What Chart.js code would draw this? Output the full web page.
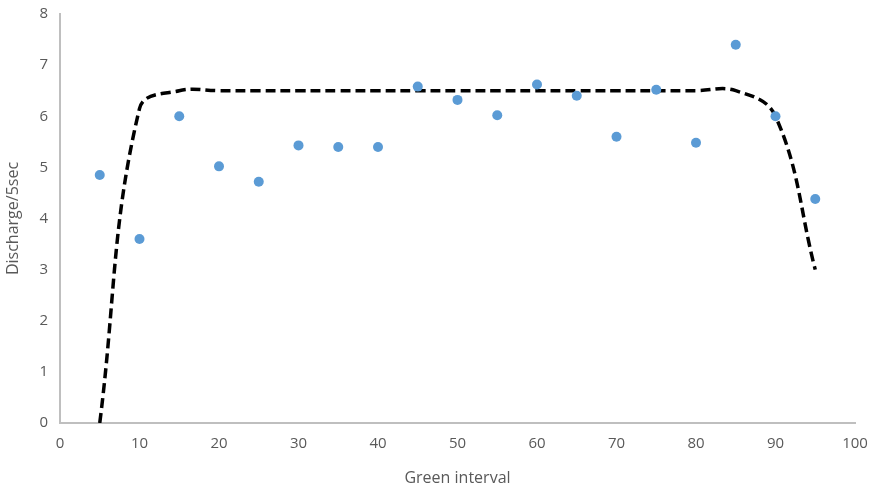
<!DOCTYPE html>
<html>
<head>
<meta charset="utf-8">
<script src="https://cdn.jsdelivr.net/npm/chart.js@4"></script>
<style>
html,body{margin:0;padding:0;background:#fff;}
#wrap{width:878px;height:492px;position:relative;}
</style>
</head>
<body>
<div id="wrap"><canvas id="c" width="878" height="492"></canvas></div>
<script>
const greenX = [5,10,15,20,25,30,35,40,45,50,55,60,65,70,75,80,85,90,95];
const discharge = [4.85,3.6,6.0,5.02,4.72,5.43,5.4,5.4,6.58,6.32,6.02,6.62,6.4,5.6,6.52,5.48,7.4,6.0,4.38];
const curveX = [5,10,15,20,25,30,35,40,45,50,55,60,65,70,75,80,85,90,95];
const curveY = [0,6.15,6.5,6.5,6.5,6.5,6.5,6.5,6.5,6.5,6.5,6.5,6.5,6.5,6.5,6.5,6.5,6.0,3.0];
const xTicks = [0,10,20,30,40,50,60,70,80,90,100];
const yTicks = [0,1,2,3,4,5,6,7,8];

const pts = greenX.map((x,i)=>({x:x,y:discharge[i]}));
const curve = curveX.map((x,i)=>({x:x,y:curveY[i]}));
const FONT = "'Open Sans', sans-serif";
const GRAY = '#595959';

new Chart(document.getElementById('c'), {
  type: 'scatter',
  data: {
    datasets: [
      {label:'Discharge', data: pts, backgroundColor:'#5b9bd5', borderColor:'#5b9bd5', pointRadius:5, pointBorderWidth:0, showLine:false},
      {label:'Fit', data: curve, showLine:true, borderColor:'#000', borderWidth:3.5, borderDash:[10,5], pointRadius:0, tension:0.4, fill:false}
    ]
  },
  options: {
    responsive:false, animation:false,
    layout:{padding:{top:14,right:23,left:0,bottom:0}},
    plugins:{legend:{display:false}, tooltip:{enabled:false}},
    scales:{
      x:{
        type:'linear', min:0, max:100,
        afterBuildTicks: s => { s.ticks = xTicks.map(v=>({value:v})); },
        afterFit: s => { s.height = 69; s.paddingLeft = 0; s.paddingRight = 0; },
        grid:{display:false, drawTicks:false},
        border:{display:true, color:'#bfbfbf', width:2},
        ticks:{color:GRAY, font:{family:FONT, size:15}, padding:12},
        title:{display:true, text:'Green interval', color:GRAY, font:{family:FONT, size:16}, padding:{top:4}}
      },
      y:{
        type:'linear', min:0, max:8,
        afterBuildTicks: s => { s.ticks = yTicks.map(v=>({value:v})); },
        afterFit: s => { s.width = 60; s.paddingTop = 0; s.paddingBottom = 0; },
        grid:{display:false, drawTicks:false},
        border:{display:true, color:'#bfbfbf', width:2},
        ticks:{color:GRAY, font:{family:FONT, size:15}, padding:12},
        title:{display:true, text:'Discharge/5sec', color:GRAY, font:{family:FONT, size:16}, padding:{bottom:2}}
      }
    }
  }
});
</script>
</body>
</html>
